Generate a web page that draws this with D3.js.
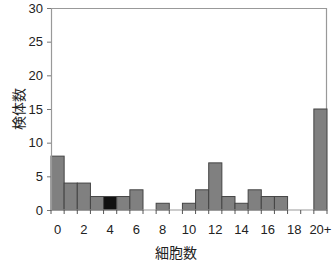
<!DOCTYPE html>
<html>
<head>
<meta charset="utf-8">
<script src="https://cdn.jsdelivr.net/npm/d3@7"></script>
<style>
  body { margin: 0; background: #fff; }
  text { font-family: Arial, "Liberation Sans", sans-serif; fill: #222; }
  .jp { font-family: "Noto Sans CJK JP", sans-serif; }
</style>
</head>
<body>
<script>
// bins: cell count 0..19 and 20+
const bins = ['0','1','2','3','4','5','6','7','8','9','10','11','12','13','14','15','16','17','18','19','20+'];
const counts = [8, 4, 4, 2, 2, 2, 3, 0, 1, 0, 1, 3, 7, 2, 1, 3, 2, 2, 0, 0, 15];
const highlight = ['4'];
const xTickLabels = ['0','2','4','6','8','10','12','14','16','18','20+'];
const yTicks = [0, 5, 10, 15, 20, 25, 30];

const W = 335, H = 265;
const margin = { top: 8, right: 8, bottom: 55, left: 51 };
const width = W - margin.left - margin.right;
const height = H - margin.top - margin.bottom;

const svg = d3.select('body').append('svg')
    .attr('width', W)
    .attr('height', H);

const g = svg.append('g')
    .attr('transform', `translate(${margin.left},${margin.top})`);

const x = d3.scaleBand()
    .domain(bins)
    .range([0, width])
    .padding(0);

const y = d3.scaleLinear()
    .domain([0, 30])
    .range([height, 0]);

// frame (top and right)
g.append('path')
    .attr('d', `M0,0.5H${width - 0.5}V${height}`)
    .attr('fill', 'none')
    .attr('stroke', '#999')
    .attr('stroke-width', 1.2);

// bars
g.selectAll('rect.bar')
    .data(counts)
    .enter().append('rect')
    .attr('class', 'bar')
    .attr('x', (d, i) => x(bins[i]))
    .attr('y', d => y(d))
    .attr('width', x.bandwidth())
    .attr('height', d => height - y(d))
    .attr('fill', (d, i) => highlight.includes(bins[i]) ? '#111' : '#808080')
    .attr('stroke', '#444')
    .attr('stroke-width', 1);

// y axis
const yAxis = g.append('g')
    .call(d3.axisLeft(y).tickValues(yTicks).tickSize(4).tickPadding(4));
yAxis.select('.domain').attr('stroke', '#999').attr('stroke-width', 1.2);
yAxis.selectAll('line').attr('stroke', '#777');
yAxis.selectAll('text').style('font-size', '13px').attr('fill', '#222');

// x axis: ticks at bin edges, labels centered on every other bin
const edges = d3.range(bins.length + 1).map(i => i * x.step());
const xAxis = g.append('g')
    .attr('transform', `translate(0,${height})`);
xAxis.append('line')
    .attr('x1', 0).attr('x2', width)
    .attr('stroke', '#999').attr('stroke-width', 1.2);
xAxis.selectAll('line.tick')
    .data(edges)
    .enter().append('line')
    .attr('class', 'tick')
    .attr('x1', d => d).attr('x2', d => d)
    .attr('y1', 0).attr('y2', 4)
    .attr('stroke', '#555');
xAxis.selectAll('text')
    .data(xTickLabels)
    .enter().append('text')
    .attr('x', d => x(d) + x.bandwidth() / 2)
    .attr('y', 24)
    .attr('text-anchor', 'middle')
    .style('font-size', '13px')
    .text(d => d);

// axis titles
svg.append('text')
    .attr('class', 'jp')
    .attr('x', 176)
    .attr('y', 258)
    .attr('text-anchor', 'middle')
    .style('font-size', '14px')
    .text('細胞数');

svg.append('text')
    .attr('class', 'jp')
    .attr('transform', `translate(24,${margin.top + height / 2}) rotate(-90)`)
    .attr('text-anchor', 'middle')
    .style('font-size', '14px')
    .text('検体数');
</script>
</body>
</html>
